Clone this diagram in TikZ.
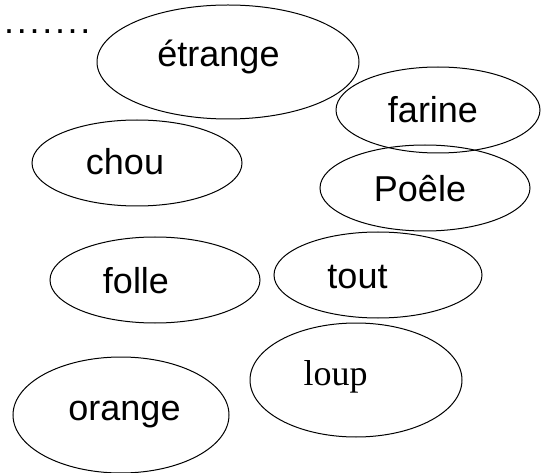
\documentclass[tikz,border=0pt]{standalone}
\usepackage{fontspec}
\setmainfont{Liberation Sans}
\newfontfamily\serifword{Liberation Serif}
\usetikzlibrary{shapes.geometric}

\newcommand\sdot{.\kern2.7pt}

\begin{document}
\begin{tikzpicture}[
    x=1pt, y=-1pt,
    bubble/.style={ellipse, draw, line width=1pt, inner sep=0pt},
    word/.style={anchor=base, inner sep=0pt, font=\fontsize{36}{40}\selectfont}
]
\useasboundingbox (0,0) rectangle (541,473);

\node[word, anchor=base west] (dots) at (4,34) {\sdot\sdot\sdot\sdot\sdot\sdot.};

\node[bubble, minimum width=262pt, minimum height=114pt] (E) at (228,62) {};
\node[word] (Et) at (218.5,67) {étrange};

\node[bubble, minimum width=204pt, minimum height=86pt] (F) at (438,110) {};
\node[word] (Ft) at (433,123) {farine};

\node[bubble, minimum width=210pt, minimum height=86pt] (C) at (137,163) {};
\node[word] (Ct) at (125,175) {chou};

\node[bubble, minimum width=210pt, minimum height=86pt] (P) at (425,188) {};
\node[word] (Pt) at (420,202) {Poêle};

\node[bubble, minimum width=210pt, minimum height=86pt] (Fo) at (155,280) {};
\node[word] (Fot) at (136,294) {folle};

\node[bubble, minimum width=208pt, minimum height=86pt] (T) at (378,275) {};
\node[word] (Tt) at (357.5,288) {tout};

\node[bubble, minimum width=212pt, minimum height=114pt] (L) at (356,380) {};
\node[word, font=\fontsize{36}{40}\serifword] (Lt) at (335.5,385) {loup};

\node[bubble, minimum width=216pt, minimum height=116pt] (O) at (121,415) {};
\node[word] (Ot) at (124.5,420) {orange};

\end{tikzpicture}
\end{document}
